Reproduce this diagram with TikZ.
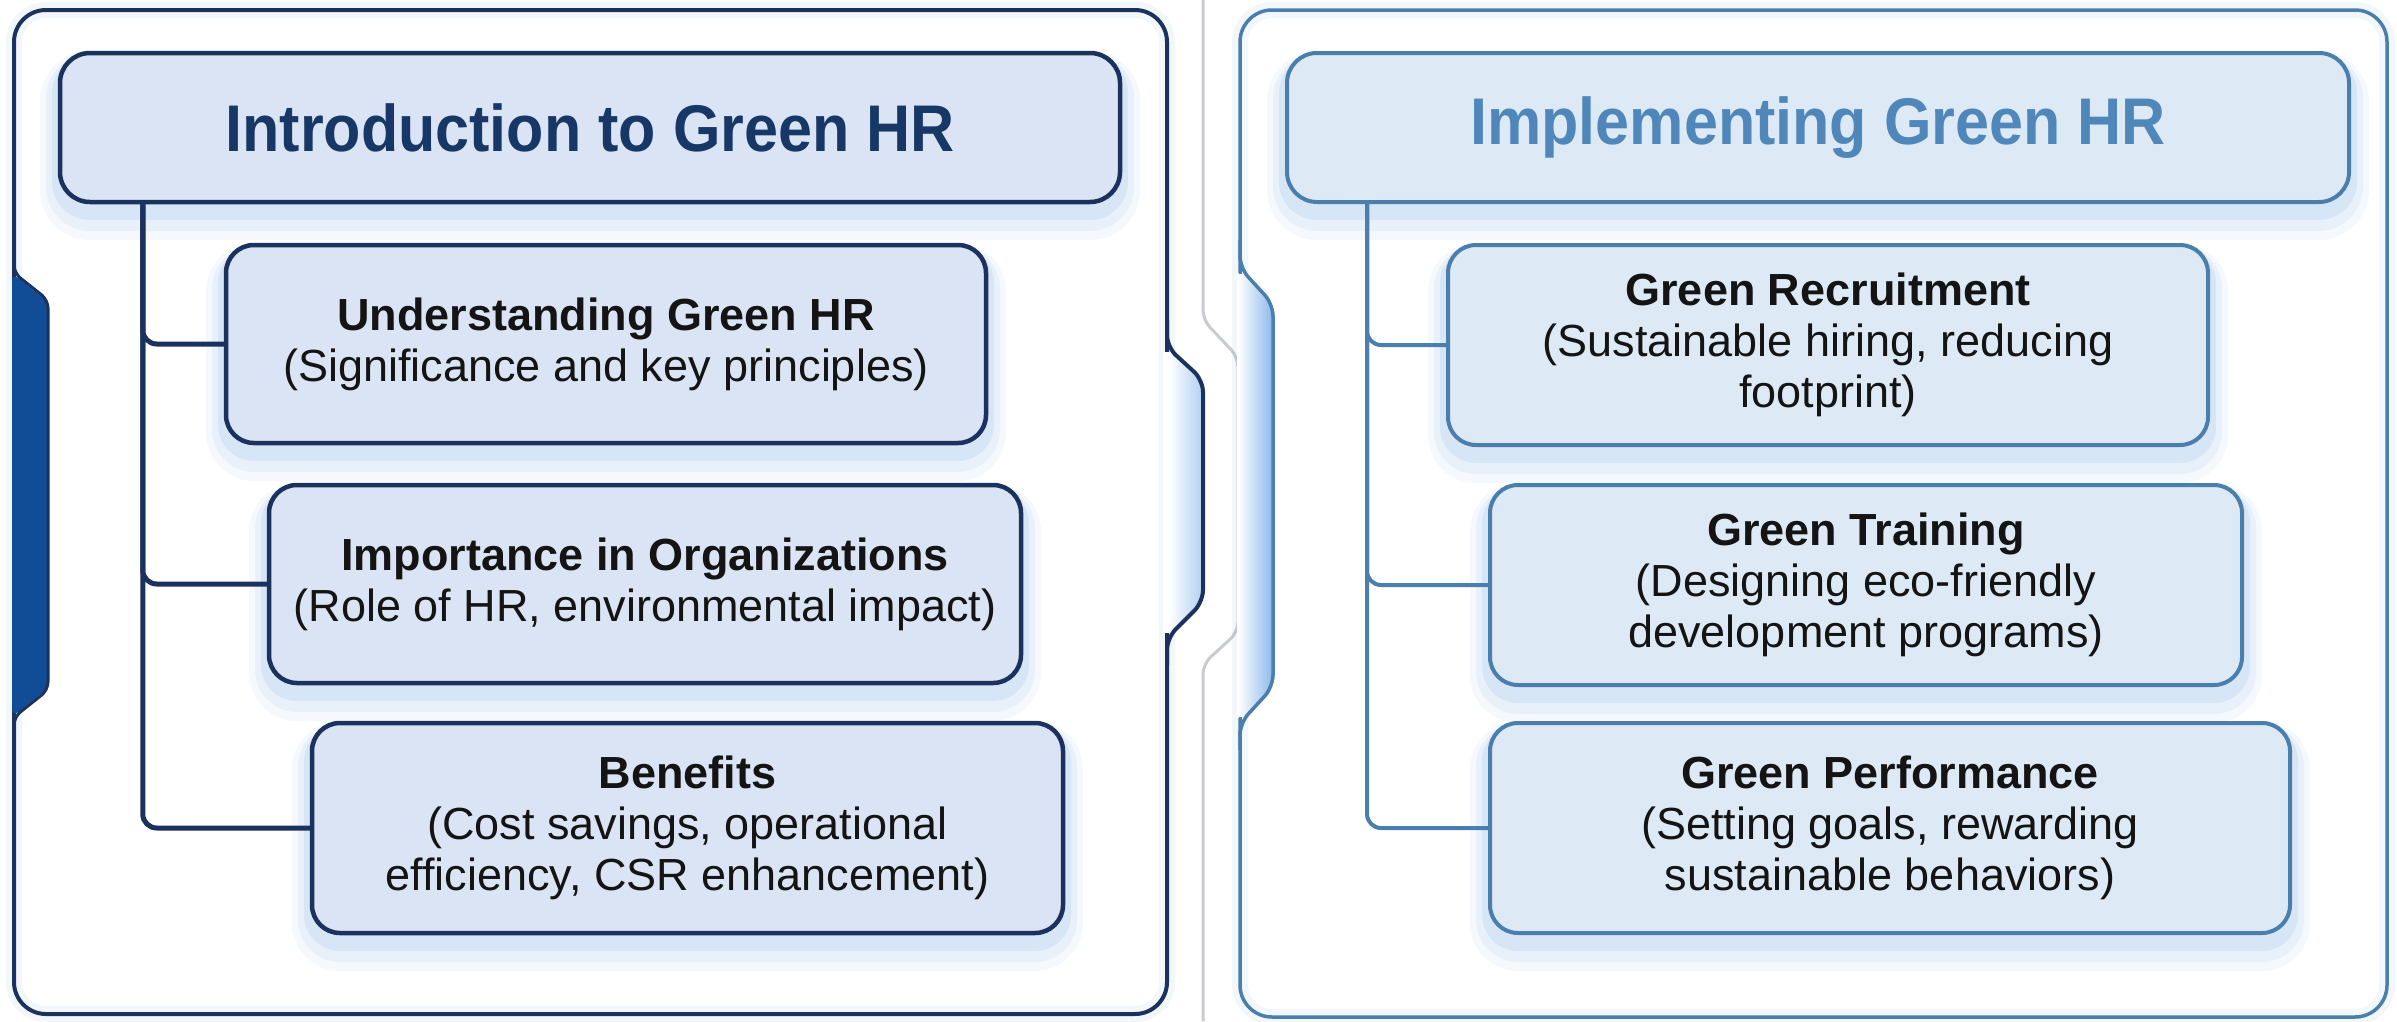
\documentclass[tikz,border=0pt]{standalone}
\usepackage{fontspec}
\setmainfont{Liberation Sans}
\newfontfamily\titlefont[FakeStretch=0.925]{Liberation Sans}
\definecolor{lborder}{RGB}{28,50,94}
\definecolor{lfill}{RGB}{218,228,244}
\definecolor{ltitlec}{RGB}{23,55,102}
\definecolor{rborder}{RGB}{74,126,173}
\definecolor{rfill}{RGB}{221,234,246}
\definecolor{rtitlec}{RGB}{79,135,186}
\definecolor{tabdark}{RGB}{17,76,150}
\definecolor{glowc}{RGB}{90,155,225}
\definecolor{txt}{RGB}{20,20,20}
\definecolor{grayline}{RGB}{200,203,208}
\begin{document}
\begin{tikzpicture}[x=1pt,y=-1pt,
  glow/.style={
    preaction={draw=glowc, line width=40pt, draw opacity=0.06, transform canvas={yshift=-18pt}},
    preaction={draw=glowc, line width=28pt, draw opacity=0.08, transform canvas={yshift=-15pt}},
    preaction={draw=glowc, line width=16pt, draw opacity=0.12, transform canvas={yshift=-10pt}}},
  boxbase/.style={glow, rounded corners=28pt, inner sep=0pt, align=center, text=txt,
    font=\fontsize{45}{51}\selectfont},
  lbox/.style={boxbase, draw=lborder, fill=lfill, line width=4.5pt},
  rbox/.style={boxbase, draw=rborder, fill=rfill, line width=4pt},
  titlebase/.style={glow, rounded corners=30pt, inner sep=0pt, minimum height=149pt,
    font=\titlefont\bfseries\fontsize{66}{72}\selectfont},
  ltitlebox/.style={titlebase, draw=lborder, fill=lfill, line width=4.5pt, text=ltitlec},
  rtitlebox/.style={titlebase, draw=rborder, fill=rfill, line width=4pt, text=rtitlec},
  lconn/.style={draw=lborder, line width=5pt, rounded corners=14pt},
  rconn/.style={draw=rborder, line width=4pt, rounded corners=14pt},
  lframe/.style={draw=lborder, line width=4pt},
  rframe/.style={draw=rborder, line width=3.5pt},
  framesoft/.style={draw=glowc, line width=16pt, draw opacity=0.08}
]
\fill[white] (0,0) rectangle (2397,1021);
\useasboundingbox (0,0) rectangle (2397,1021);

% separator line
\draw[grayline, line width=3pt, rounded corners=10pt]
  (1203,0) -- (1203,320) -- (1238,357) -- (1238,632) -- (1203,664) -- (1203,1021);

% ---------- left frame ----------
\draw[framesoft, rounded corners=32pt] (14,10) rectangle (1167,1014);
\draw[lframe, rounded corners=32pt] (14,10) rectangle (1167,1014);
\draw[white, line width=8pt] (1167,352) -- (1167,633);
\shade[left color=white, right color=glowc!45, rounded corners=8pt]
  (1169,350) -- (1201,382) -- (1201,600) -- (1169,636) -- cycle;
\draw[lframe, rounded corners=12pt]
  (1167,320) -- (1167,347) -- (1203,380) -- (1203,602) -- (1167,638) -- (1167,665);
\fill[tabdark, rounded corners=8pt] (12,273) -- (48,302) -- (48,688) -- (12,717) -- cycle;
\draw[lborder, line width=3pt, rounded corners=8pt] (14,262) -- (14,273) -- (48,300) -- (48,690) -- (14,717) -- (14,728);

% ---------- right frame ----------
\draw[framesoft, rounded corners=32pt] (1240,10) rectangle (2387,1017);
\draw[rframe, rounded corners=32pt] (1240,10) rectangle (2387,1017);
\fill[white] (1237,272) -- (1271,306) -- (1271,685) -- (1237,719) -- cycle;
\shade[left color=white, right color=glowc!70, rounded corners=8pt]
  (1238,270) -- (1273,304) -- (1273,687) -- (1238,721) -- cycle;
\draw[rframe, rounded corners=12pt]
  (1240,240) -- (1240,268) -- (1273,304) -- (1273,687) -- (1240,723) -- (1240,750);

% ---------- left column ----------
\node[ltitlebox, minimum width=1060pt] (ltitle) at (590,127.5) {Introduction to Green HR};
\node[lbox, minimum width=760pt, minimum height=198pt] (L1) at (606,344)
  {{\bfseries Understanding Green HR}\\(Significance and key principles)};
\node[lbox, minimum width=752pt, minimum height=198pt] (L2) at (645,584)
  {{\bfseries Importance in Organizations}\\(Role of HR, environmental impact)};
\node[lbox, minimum width=751pt, minimum height=210pt] (L3) at (687.5,828)
  {{\bfseries Benefits}\\(Cost savings, operational\\efficiency, CSR enhancement)};
\path (ltitle.south west) ++(85,0) coordinate (lspine);
\draw[lconn] (lspine) |- (L1.west);
\draw[lconn] (lspine) |- (L2.west);
\draw[lconn] (lspine) |- (L3.west);

% ---------- right column ----------
\node[rtitlebox, minimum width=1062pt] (rtitle) at (1818,127.5) {Implementing Green HR};
\node[rbox, minimum width=760pt, minimum height=200pt] (R1) at (1828,345)
  {{\bfseries Green Recruitment}\\(Sustainable hiring, reducing\\footprint)};
\node[rbox, minimum width=752pt, minimum height=200pt] (R2) at (1866,585)
  {{\bfseries Green Training}\\(Designing eco-friendly\\development programs)};
\node[rbox, minimum width=800pt, minimum height=210pt] (R3) at (1890,828)
  {{\bfseries Green Performance}\\(Setting goals, rewarding\\sustainable behaviors)};
\path (rtitle.south west) ++(82,0) coordinate (rspine);
\draw[rconn] (rspine) |- (R1.west);
\draw[rconn] (rspine) |- (R2.west);
\draw[rconn] (rspine) |- (R3.west);
\end{tikzpicture}
\end{document}
